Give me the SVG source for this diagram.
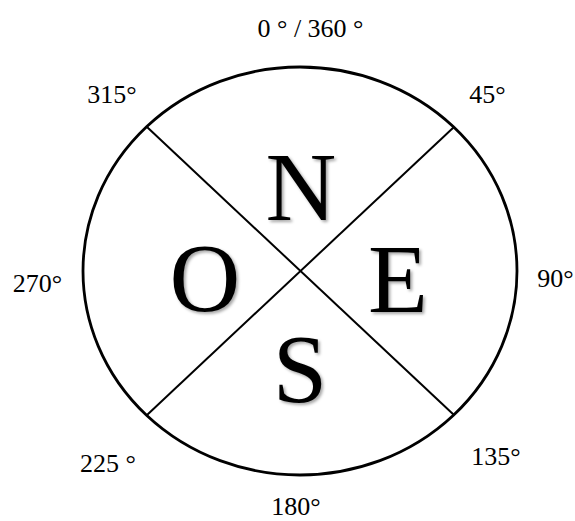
<svg xmlns="http://www.w3.org/2000/svg" width="575" height="521" viewBox="0 0 575 521">
<defs>
<style>
.lbl{font-family:"Liberation Serif","Times New Roman",serif;font-size:26px;fill:#000;text-anchor:middle}
.big{font-family:"Liberation Serif","Times New Roman",serif;font-size:98px;fill:#000;text-anchor:middle;filter:url(#sh)}
.ln{stroke:#000;stroke-width:2;fill:none}
</style>
<filter id="sh" x="-20%" y="-20%" width="140%" height="140%">
<feDropShadow dx="2" dy="2" stdDeviation="1.5" flood-color="#000" flood-opacity="0.35"/>
</filter>
</defs>
<rect width="575" height="521" fill="#fff"/>
<g id="circle">
<ellipse cx="300" cy="271" rx="217" ry="204" fill="none" stroke="#000" stroke-width="2.8"/>
</g>
<g id="connectors">
<line class="ln" x1="147" y1="127" x2="454" y2="415"/>
<line class="ln" x1="454" y1="127" x2="147" y2="415"/>
</g>
<g id="N"><text class="big" x="301" y="220">N</text></g>
<g id="O"><text class="big" x="205" y="311">O</text></g>
<g id="E"><text class="big" x="398" y="312">E</text></g>
<g id="S"><text class="big" x="300" y="402">S</text></g>
<g id="labels">
<text class="lbl" x="310.5" y="37">0 ° / 360 °</text>
<text class="lbl" x="112" y="103">315°</text>
<text class="lbl" x="487.5" y="103">45°</text>
<text class="lbl" x="37.5" y="292">270°</text>
<text class="lbl" x="555.5" y="287">90°</text>
<text class="lbl" x="108" y="472">225 °</text>
<text class="lbl" x="496" y="465">135°</text>
<text class="lbl" x="296" y="515">180°</text>
</g>
</svg>
